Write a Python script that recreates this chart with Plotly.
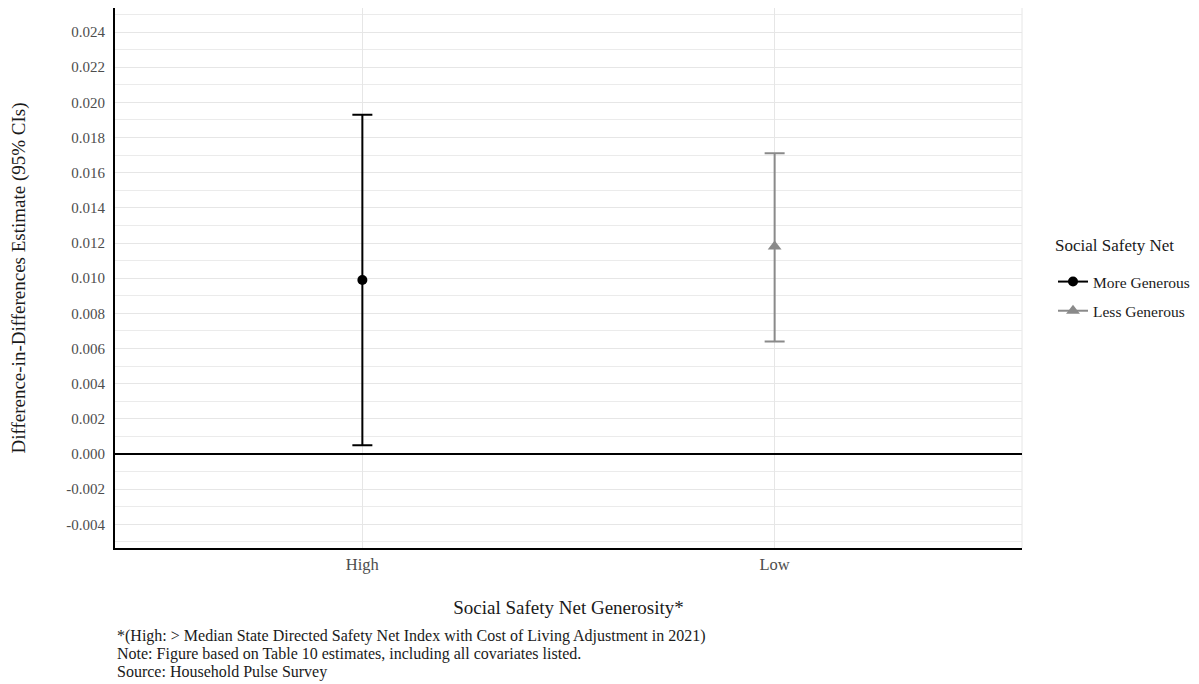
import plotly.graph_objects as go

categories = ["High", "Low"]
series_names = ["More Generous", "Less Generous"]
estimates = [0.0099, 0.0118]
ci_upper = [0.0193, 0.0171]
ci_lower = [0.0005, 0.0064]
y_tick_vals = [-0.004, -0.002, 0.0, 0.002, 0.004, 0.006, 0.008, 0.010, 0.012,
               0.014, 0.016, 0.018, 0.020, 0.022, 0.024]
y_tick_text = ["-0.004", "-0.002", "0.000", "0.002", "0.004", "0.006", "0.008",
               "0.010", "0.012", "0.014", "0.016", "0.018", "0.020", "0.022", "0.024"]
legend_title = "Social Safety Net"
caption_lines = [
    "*(High: > Median State Directed Safety Net Index with Cost of Living Adjustment in 2021)",
    "Note: Figure based on Table 10 estimates, including all covariates listed.",
    "Source: Household Pulse Survey",
]

FONT = "Liberation Serif"
colors = ["#000000", "#8a8a8a"]
symbols = ["circle", "triangle-up"]
sizes = [10, 12]

PLOT_LEFT, PLOT_RIGHT = 115, 1022
PLOT_TOP, PLOT_BOTTOM = 8, 548
PLOT_W = PLOT_RIGHT - PLOT_LEFT
PLOT_H = PLOT_BOTTOM - PLOT_TOP


def paper_x(px):
    return (px - PLOT_LEFT) / PLOT_W


def paper_y(px):
    return (PLOT_BOTTOM - px) / PLOT_H


fig = go.Figure()
for i, cat in enumerate(categories):
    fig.add_trace(go.Scatter(
        x=[i + 1], y=[estimates[i]],
        mode="lines+markers",
        name=series_names[i],
        legendgroup=series_names[i],
        marker=dict(symbol=symbols[i], size=sizes[i], color=colors[i]),
        line=dict(color=colors[i], width=2),
        error_y=dict(type="data", symmetric=False,
                     array=[ci_upper[i] - estimates[i]],
                     arrayminus=[estimates[i] - ci_lower[i]],
                     color=colors[i], thickness=2, width=10),
    ))

fig.update_layout(
    width=1199, height=684,
    margin=dict(l=PLOT_LEFT, r=1199 - PLOT_RIGHT, t=PLOT_TOP, b=684 - PLOT_BOTTOM, autoexpand=False),
    paper_bgcolor="white", plot_bgcolor="white",
    font=dict(family=FONT, color="#000000"),
    showlegend=True,
    legend=dict(
        x=paper_x(1053), y=paper_y(265), xanchor="left", yanchor="top",
        font=dict(size=15.5, color="#1a1a1a"),
        itemwidth=30, tracegroupgap=6,
        bgcolor="rgba(0,0,0,0)",
    ),
    xaxis=dict(
        range=[0.4, 2.6],
        tickvals=[1, 2], ticktext=categories,
        tickfont=dict(size=16.5, color="#4d4d4d"),
        showgrid=True, gridcolor="#e6e6e6", gridwidth=1,
        showline=True, linecolor="#000000", linewidth=2,
        ticks="", zeroline=False,
        title=dict(text="Social Safety Net Generosity*", font=dict(size=19, color="#1a1a1a"), standoff=28),
    ),
    yaxis=dict(
        range=[-0.005346, 0.025365],
        tickvals=y_tick_vals, ticktext=y_tick_text,
        tickfont=dict(size=15, color="#4d4d4d"),
        ticklabelstandoff=5,
        showgrid=True, gridcolor="#e6e6e6", gridwidth=1,
        minor=dict(dtick=0.001, tick0=0, showgrid=True, gridcolor="#ebebeb", gridwidth=1),
        showline=True, linecolor="#000000", linewidth=2,
        ticks="", ticklen=0,
        zeroline=True, zerolinecolor="#000000", zerolinewidth=2,
        title=dict(text="Difference-in-Differences Estimate (95% CIs)", font=dict(size=19, color="#1a1a1a"), standoff=36),
    ),
)

fig.add_shape(type="line", xref="paper", yref="paper", x0=1, x1=1, y0=0, y1=1,
              line=dict(color="#e6e6e6", width=1), layer="below")

fig.add_annotation(
    text=legend_title, xref="paper", yref="paper",
    x=paper_x(1053), y=paper_y(245), xanchor="left", yanchor="middle",
    showarrow=False, font=dict(size=17, color="#1a1a1a"),
)

for k, line in enumerate(caption_lines):
    fig.add_annotation(
        text=line, xref="paper", yref="paper",
        x=0, y=paper_y(636 + 18 * k),
        xanchor="left", yanchor="middle", showarrow=False,
        font=dict(size=16, color="#1a1a1a"), align="left",
    )

fig.write_html("out.html")
